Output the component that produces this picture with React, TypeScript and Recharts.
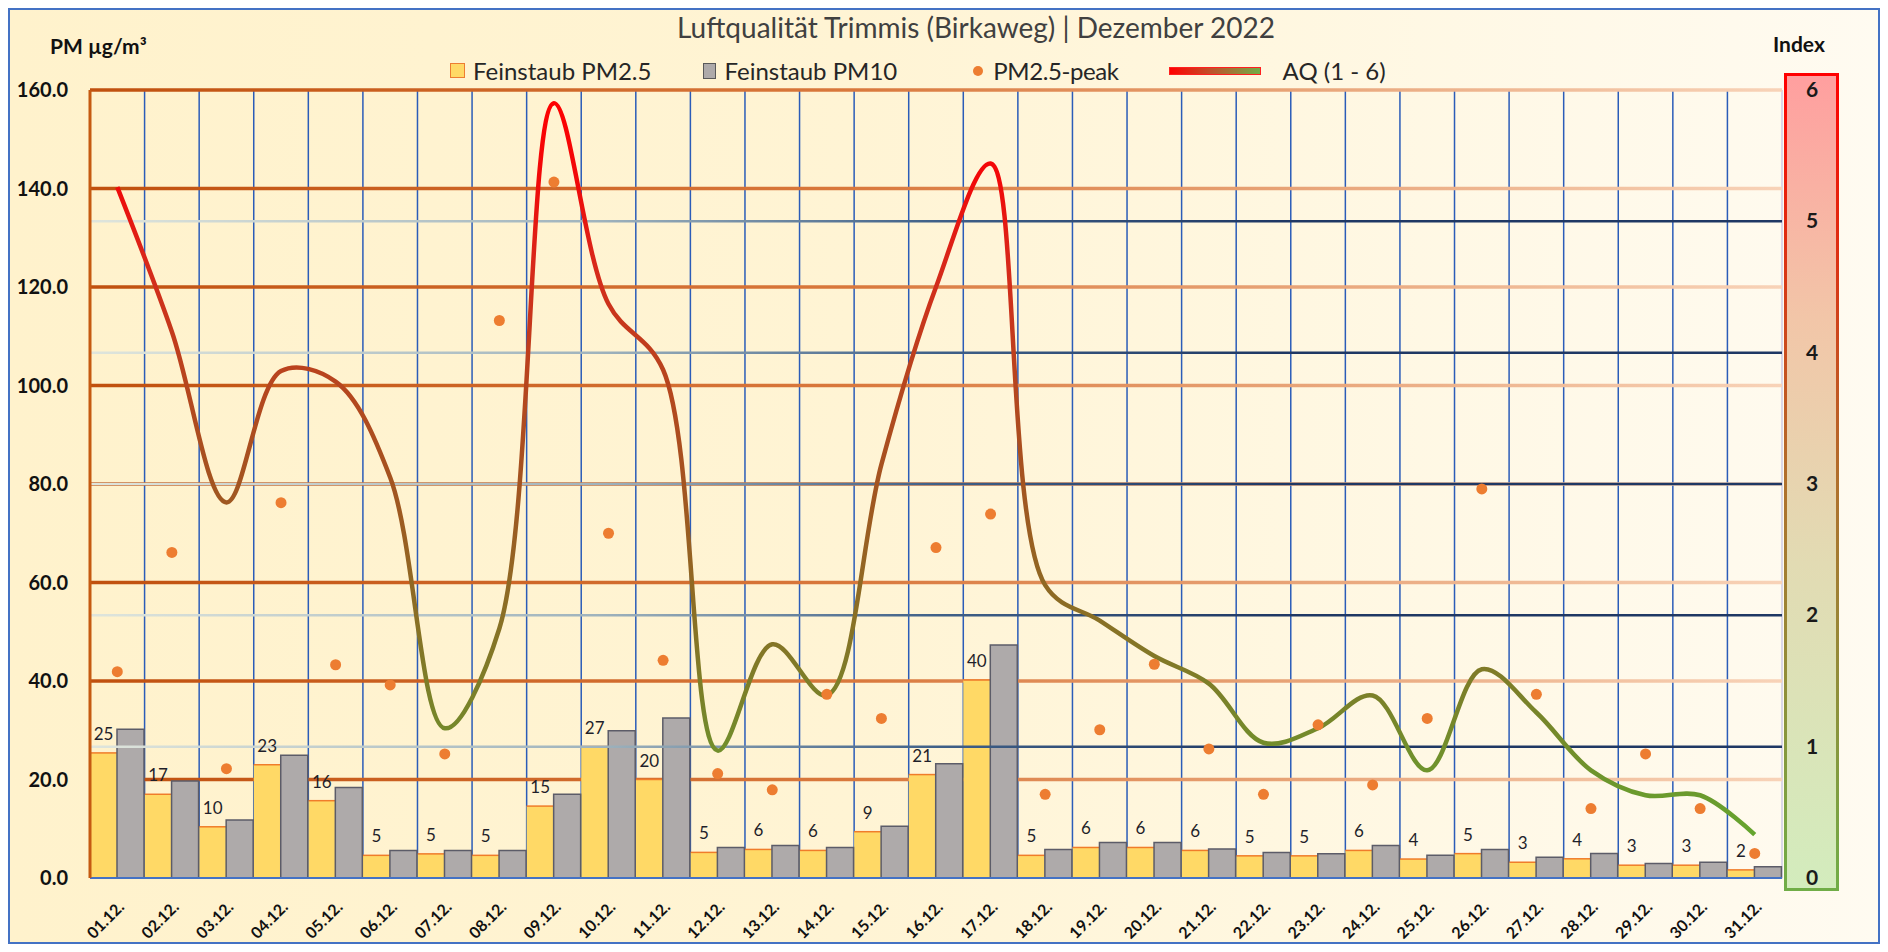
import React from "react";
import {
  ComposedChart,
  Bar,
  Line,
  XAxis,
  YAxis,
  ReferenceLine,
  LabelList
} from "recharts";

// Tageswerte Dezember 2022
const days = [
  "01.12.", "02.12.", "03.12.", "04.12.", "05.12.", "06.12.", "07.12.", "08.12.",
  "09.12.", "10.12.", "11.12.", "12.12.", "13.12.", "14.12.", "15.12.", "16.12.",
  "17.12.", "18.12.", "19.12.", "20.12.", "21.12.", "22.12.", "23.12.", "24.12.",
  "25.12.", "26.12.", "27.12.", "28.12.", "29.12.", "30.12.", "31.12."
];
const pm25 = [
  25.4, 17.0, 10.4, 23.0, 15.7, 4.6, 4.9, 4.6, 14.6, 26.7, 20.0, 5.2, 5.8, 5.6, 9.4, 21.0,
  40.2, 4.6, 6.2, 6.2, 5.6, 4.5, 4.5, 5.6, 3.85, 4.95, 3.2, 3.9, 2.6, 2.6, 1.65
];
const pm10 = [
  30.2, 19.7, 11.8, 24.9, 18.4, 5.6, 5.6, 5.6, 17.0, 29.9, 32.5, 6.2, 6.6, 6.2, 10.5, 23.2,
  47.3, 5.8, 7.2, 7.2, 5.9, 5.2, 4.9, 6.6, 4.6, 5.8, 4.2, 4.95, 2.96, 3.2, 2.3
];
const pm25Peak = [
  41.9, 66.1, 22.2, 76.2, 43.3, 39.2, 25.2, 113.2, 141.3, 70.0, 44.2, 21.2, 17.9, 37.3, 32.4, 67.1,
  73.9, 17.0, 30.1, 43.4, 26.2, 17.0, 31.1, 18.9, 32.4, 79.0, 37.3, 14.1, 25.2, 14.1, 5.0
];
const aqIndex = [
  5.26, 4.16, 2.86, 3.86, 3.78, 3.05, 1.14, 1.9, 5.9, 4.37, 3.87, 0.97, 1.78, 1.39, 3.15, 4.5,
  5.44, 2.23, 1.96, 1.69, 1.48, 1.03, 1.14, 1.39, 0.82, 1.59, 1.26, 0.82, 0.63, 0.63, 0.33
];

const pmTicks = [0, 20, 40, 60, 80, 100, 120, 140, 160];
const pmGridLevels = [20, 40, 60, 80, 100, 120, 140, 160];
const aqTicks = [0, 1, 2, 3, 4, 5, 6];
const aqGridLevels = [1, 2, 3, 4, 5];

const TITLE = "Luftqualität Trimmis (Birkaweg) | Dezember 2022";
const NAME_PM25 = "Feinstaub PM2.5";
const NAME_PM10 = "Feinstaub PM10";
const NAME_PEAK = "PM2.5-peak";
const NAME_AQ = "AQ (1 - 6)";

const data = days.map((day, i) => ({
  day,
  pm25: pm25[i],
  pm10: pm10[i],
  peak: pm25Peak[i],
  aq: aqIndex[i]
}));

const FONT = "Lato, 'Open Sans', sans-serif";
const W = 1868;
const H = 932;
const margin = { top: 80, right: 10, bottom: 10, left: 10 };
const LEFT_AXIS_W = 70;
const RIGHT_AXIS_W = 86;
const X_AXIS_H = 54;
const plotLeft = margin.left + LEFT_AXIS_W;
const plotRight = W - margin.right - RIGHT_AXIS_W;
const plotTop = margin.top;
const plotBottom = H - margin.bottom - X_AXIS_H;

// geglättete Linie wie in Excel: zentripetaler Catmull-Rom als Bezier
function excelSmooth(context: any) {
  const alpha = 0.5;
  let pts: [number, number][] = [];
  const dist = (a: [number, number], b: [number, number]) =>
    Math.hypot(b[0] - a[0], b[1] - a[1]);
  return {
    areaStart() {},
    areaEnd() {},
    lineStart() {
      pts = [];
    },
    lineEnd() {
      if (!pts.length) return;
      context.moveTo(pts[0][0], pts[0][1]);
      for (let i = 0; i < pts.length - 1; i++) {
        const p0 = pts[i - 1] || pts[i];
        const p1 = pts[i];
        const p2 = pts[i + 1];
        const p3 = pts[i + 2] || p2;
        const l01a = Math.pow(dist(p0, p1), alpha);
        const l12a = Math.pow(dist(p1, p2), alpha);
        const l23a = Math.pow(dist(p2, p3), alpha);
        const l01_2a = l01a * l01a;
        const l12_2a = l12a * l12a;
        const l23_2a = l23a * l23a;
        let c1x = p1[0];
        let c1y = p1[1];
        let c2x = p2[0];
        let c2y = p2[1];
        if (l01a > 1e-6) {
          const a = 2 * l01_2a + 3 * l01a * l12a + l12_2a;
          const n = 3 * l01a * (l01a + l12a);
          c1x = (p1[0] * a - p0[0] * l12_2a + p2[0] * l01_2a) / n;
          c1y = (p1[1] * a - p0[1] * l12_2a + p2[1] * l01_2a) / n;
        }
        if (l23a > 1e-6) {
          const b = 2 * l23_2a + 3 * l23a * l12a + l12_2a;
          const m = 3 * l23a * (l23a + l12a);
          c2x = (p2[0] * b + p1[0] * l23_2a - p3[0] * l12_2a) / m;
          c2y = (p2[1] * b + p1[1] * l23_2a - p3[1] * l12_2a) / m;
        }
        context.bezierCurveTo(c1x, c1y, c2x, c2y, p2[0], p2[1]);
      }
    },
    point(x: number, y: number) {
      pts.push([x, y]);
    }
  };
}

const Pm25Shape = (props: any) => {
  const { x, y, width, height } = props;
  if (!height || height <= 0) return null;
  return (
    <g>
      <rect x={x} y={y} width={width} height={height} fill="#ffd966" />
      <line x1={x} x2={x + width} y1={y} y2={y} stroke="#f07c2a" strokeWidth={1.5} />
    </g>
  );
};

const DayTick = ({ x, y, payload }: any) => (
  <g transform={`translate(${x},${y})`}>
    <text
      transform="translate(8,30) rotate(-45)"
      textAnchor="end"
      fontFamily={FONT}
      fontWeight={700}
      fontSize={16}
      fill="#111"
    >
      {payload.value}
    </text>
  </g>
);

const AqTick = ({ x, y, payload }: any) => (
  <text
    x={x + 30}
    y={y}
    dy={7}
    textAnchor="middle"
    fontFamily={FONT}
    fontWeight={700}
    fontSize={21}
    fill="#1a1a1a"
  >
    {payload.value}
  </text>
);

function LegendRow() {
  const item = { display: "flex", alignItems: "center", gap: 8 } as const;
  return (
    <div
      style={{
        position: "absolute",
        left: 440,
        top: 46,
        display: "flex",
        alignItems: "center",
        fontFamily: FONT,
        fontSize: 24,
        color: "#262626",
        zIndex: 2
      }}
    >
      <div style={{ ...item, marginRight: 52 }}>
        <span style={{ width: 13, height: 13, background: "#ffd966", border: "1.5px solid #ed7d31" }} />
        {NAME_PM25}
      </div>
      <div style={{ ...item, marginRight: 76 }}>
        <span style={{ width: 11, height: 14, background: "#aeaaaa", border: "1.5px solid #595959" }} />
        {NAME_PM10}
      </div>
      <div style={{ ...item, marginRight: 50, gap: 10 }}>
        <span style={{ width: 10, height: 10, borderRadius: 5, background: "#ed7d31" }} />
        <span style={{ letterSpacing: -0.4 }}>{NAME_PEAK}</span>
      </div>
      <div style={{ ...item, gap: 22 }}>
        <span
          style={{
            width: 90,
            height: 6,
            background: "linear-gradient(90deg, #ff0000, #c0502a 45%, #70ad47)",
            border: "1px solid #ff2020"
          }}
        />
        {NAME_AQ}
      </div>
    </div>
  );
}

export default function App() {
  return (
    <div
      style={{
        position: "relative",
        width: W,
        height: H,
        border: "2px solid #4472c4",
        background: "linear-gradient(90deg, #fff2cc 0%, #fff4d4 45%, #fffbf1 100%)",
        fontFamily: FONT
      }}
    >
      <div
        style={{
          position: "absolute",
          left: 966,
          top: 0,
          transform: "translateX(-50%)",
          fontSize: 28,
          color: "#404040",
          whiteSpace: "nowrap"
        }}
      >
        {TITLE}
      </div>
      <div style={{ position: "absolute", left: 40, top: 23, fontSize: 21, fontWeight: 700, color: "#111" }}>
        PM µg/m³
      </div>
      <div style={{ position: "absolute", left: 1763, top: 21, fontSize: 21, fontWeight: 700, color: "#111" }}>
        Index
      </div>
      <LegendRow />

      {/* Kasten der rechten Index-Achse */}
      <div
        style={{
          position: "absolute",
          left: 1774,
          top: 63,
          width: 49,
          height: 812,
          border: "3px solid",
          borderImage: "linear-gradient(180deg, #ff0000, #b0702c 50%, #70ad47) 1",
          background: "linear-gradient(180deg, #ff9f9f 0%, #f2c6a8 30%, #e2dbb3 60%, #d3ecbd 100%)"
        }}
      />

      <div style={{ position: "absolute", left: 0, top: 0, zIndex: 1 }}>
        <ComposedChart
          width={W}
          height={H}
          data={data}
          margin={margin}
          barCategoryGap={0}
          barGap={0}
        >
          <defs>
            <linearGradient id="aqGrad" gradientUnits="userSpaceOnUse" x1={0} y1={plotTop} x2={0} y2={plotBottom}>
              <stop offset="0" stopColor="#ff0000" />
              <stop offset="0.12" stopColor="#f00a0a" />
              <stop offset="0.22" stopColor="#d8281a" />
              <stop offset="0.36" stopColor="#b8441e" />
              <stop offset="0.5" stopColor="#a35420" />
              <stop offset="0.65" stopColor="#8c6c24" />
              <stop offset="0.8" stopColor="#76862a" />
              <stop offset="0.92" stopColor="#68a02e" />
              <stop offset="1" stopColor="#5cb030" />
            </linearGradient>
            <linearGradient id="pmGridGrad" gradientUnits="userSpaceOnUse" x1={plotLeft} y1={0} x2={plotRight} y2={0}>
              <stop offset="0" stopColor="#c0500e" />
              <stop offset="0.45" stopColor="#d9783c" />
              <stop offset="1" stopColor="#f8d3b8" />
            </linearGradient>
            <linearGradient id="aqGridGrad" gradientUnits="userSpaceOnUse" x1={plotLeft} y1={0} x2={plotRight} y2={0}>
              <stop offset="0" stopColor="#dfe5dc" />
              <stop offset="0.3" stopColor="#9fb3bd" />
              <stop offset="0.5" stopColor="#3f6088" />
              <stop offset="0.7" stopColor="#1f3864" />
              <stop offset="1" stopColor="#1f3864" />
            </linearGradient>
          </defs>

          <XAxis
            dataKey="day"
            height={X_AXIS_H}
            interval={0}
            tickLine={false}
            tickSize={0}
            tickMargin={0}
            axisLine={{ stroke: "#4472c4", strokeWidth: 2 }}
            tick={<DayTick />}
          />
          <YAxis
            yAxisId="pm"
            width={LEFT_AXIS_W}
            domain={[0, 160]}
            ticks={pmTicks}
            tickFormatter={(v: number) => v.toFixed(1)}
            tickLine={false}
            tickSize={0}
            tickMargin={22}
            axisLine={{ stroke: "#c55a11", strokeWidth: 3 }}
            tick={{ fill: "#111", fontSize: 20, fontWeight: 700, fontFamily: FONT }}
          />
          <YAxis
            yAxisId="aq"
            orientation="right"
            width={RIGHT_AXIS_W}
            domain={[0, 6]}
            ticks={aqTicks}
            tickLine={false}
            tickSize={0}
            tickMargin={0}
            axisLine={false}
            tick={<AqTick />}
          />

          {days.map((d) => (
            <ReferenceLine
              key={"v" + d}
              x={d}
              yAxisId="pm"
              position="start"
              stroke="#2b5cb8"
              strokeWidth={1.5}
              zIndex={-20}
            />
          ))}
          <ReferenceLine
            x={days[days.length - 1]}
            yAxisId="pm"
            position="end"
            stroke="#cfcde6"
            strokeWidth={1.5}
            zIndex={-20}
          />
          {pmGridLevels.map((v) => (
            <ReferenceLine
              key={"h" + v}
              y={v}
              yAxisId="pm"
              stroke="url(#pmGridGrad)"
              strokeWidth={3.5}
              zIndex={-10}
            />
          ))}

          <Bar yAxisId="pm" dataKey="pm25" name={NAME_PM25} shape={<Pm25Shape />} isAnimationActive={false}>
            <LabelList
              dataKey="pm25"
              position="top"
              offset={13}
              formatter={(v: any) => Math.round(Number(v))}
              fill="#1f1f2a"
              fontSize={17}
              fontFamily={FONT}
            />
          </Bar>
          <Bar
            yAxisId="pm"
            dataKey="pm10"
            name={NAME_PM10}
            fill="#aeaaaa"
            stroke="#5c5c68"
            strokeWidth={1.5}
            isAnimationActive={false}
          />

          {aqGridLevels.map((v) => (
            <ReferenceLine
              key={"a" + v}
              y={v}
              yAxisId="aq"
              stroke="url(#aqGridGrad)"
              strokeWidth={2.5}
              zIndex={350}
            />
          ))}

          <Line
            yAxisId="pm"
            dataKey="peak"
            name={NAME_PEAK}
            stroke="none"
            strokeWidth={0}
            dot={{ r: 5.5, fill: "#ed7d31", stroke: "none" }}
            activeDot={false}
            isAnimationActive={false}
          />
          <Line
            yAxisId="aq"
            dataKey="aq"
            name={NAME_AQ}
            type={excelSmooth as any}
            stroke="url(#aqGrad)"
            strokeWidth={4.5}
            dot={false}
            activeDot={false}
            isAnimationActive={false}
          />
        </ComposedChart>
      </div>
    </div>
  );
}
